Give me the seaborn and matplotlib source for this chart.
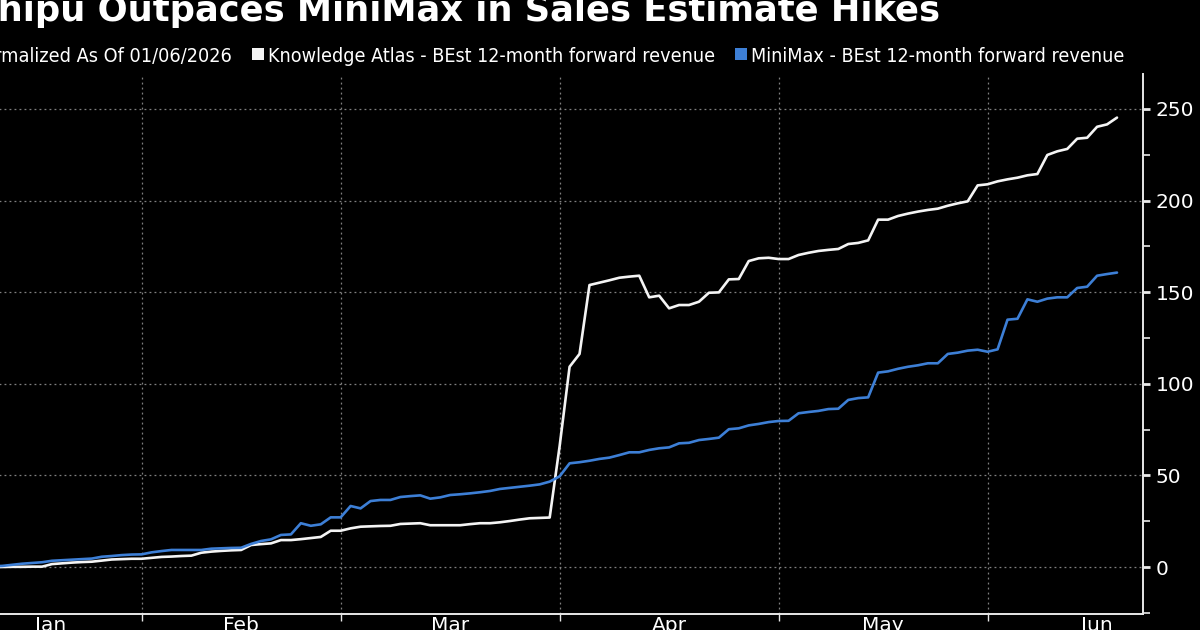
import numpy as np
import pandas as pd
import matplotlib
matplotlib.use("Agg")
import matplotlib.pyplot as plt
import seaborn as sns
from matplotlib import font_manager
from matplotlib.patches import Rectangle

# ---------------- data ----------------
dates = pd.bdate_range("2026-01-06", "2026-06-18")

knowledge_atlas = [
    0, 0, 0, 0, 0,
    0, 0.1, 0.1, 0.2, 0.2,
    1.6, 2.0, 2.4, 2.7, 2.9,
    3.5, 4.1, 4.3, 4.5, 4.5,
    5.0, 5.5, 5.7, 6.0, 6.2,
    7.8, 8.4, 8.8, 9.1, 9.3,
    12.0, 12.5, 12.9, 14.7, 14.7,
    15.2, 15.8, 16.4, 19.8, 19.8,
    21.1, 22.0, 22.2, 22.4, 22.5,
    23.5, 23.7, 23.9, 22.8, 22.8,
    22.8, 22.8, 23.4, 23.9, 23.9,
    24.4, 25.1, 25.9, 26.6, 26.8,
    27.0, 66.0, 109.3, 116.3, 153.9,
    155.2, 156.5, 157.9, 158.5, 159.0,
    147.2, 148.1, 141.2, 143.0, 143.0,
    144.8, 149.7, 149.9, 157.0, 157.2,
    167.0, 168.5, 168.8, 168.1, 168.1,
    170.3, 171.5, 172.5, 173.1, 173.6,
    176.3, 176.9, 178.3, 189.6, 189.6,
    191.6, 192.9, 194.0, 194.9, 195.6,
    197.2, 198.5, 199.6, 208.3, 208.9,
    210.5, 211.6, 212.5, 213.8, 214.5,
    224.9, 226.9, 228.2, 233.8, 234.3,
    240.3, 241.6, 245.3,
]

minimax = [
    0, 0.1, 0.2, 0.3, 0.4,
    0.6, 1.2, 1.8, 2.2, 2.6,
    3.4, 3.7, 4.0, 4.3, 4.6,
    5.6, 6.0, 6.5, 6.8, 6.9,
    8.0, 8.7, 9.3, 9.3, 9.3,
    9.3, 10.0, 10.2, 10.4, 10.5,
    12.6, 14.2, 15.1, 17.5, 17.8,
    23.9, 22.5, 23.3, 27.1, 27.1,
    33.3, 32.0, 36.0, 36.6, 36.6,
    38.2, 38.7, 39.1, 37.3, 38.0,
    39.3, 39.7, 40.2, 40.8, 41.5,
    42.6, 43.2, 43.8, 44.4, 45.1,
    46.6, 49.5, 56.6, 57.2, 58.0,
    59.0, 59.7, 61.1, 62.6, 62.6,
    63.9, 64.8, 65.3, 67.5, 67.8,
    69.3, 69.9, 70.6, 75.2, 75.7,
    77.3, 78.1, 79.1, 79.7, 79.8,
    83.9, 84.6, 85.2, 86.2, 86.4,
    91.2, 92.2, 92.6, 106.1, 106.8,
    108.2, 109.3, 110.1, 111.2, 111.2,
    116.3, 117.0, 118.1, 118.6, 117.5,
    118.8, 135.0, 135.5, 146.1, 144.8,
    146.5, 147.2, 147.2, 152.3, 153.0,
    159.0, 159.9, 160.7,
]

month_names = ["Jan", "Feb", "Mar", "Apr", "May", "Jun"]
month_starts = ["2026-01-01", "2026-02-01", "2026-03-01", "2026-04-01",
                "2026-05-01", "2026-06-01", "2026-07-01"]
y_major = [0, 50, 100, 150, 200, 250]
y_minor = [-25, 25, 75, 125, 175, 225]

title = "Zhipu Outpaces MiniMax in Sales Estimate Hikes"
subtitle = "Normalized As Of 01/06/2026"
label_ka = "Knowledge Atlas - BEst 12-month forward revenue"
label_mm = "MiniMax - BEst 12-month forward revenue"

WHITE = "#f4f4f4"
BLUE = "#3d7fd6"

# ---------------- build frame (weekday axis) ----------------
base = np.datetime64("2026-01-01")
day_idx = np.busday_count(base, dates.values.astype("datetime64[D]"))
df = pd.concat([
    pd.DataFrame({"idx": day_idx, "value": knowledge_atlas, "series": label_ka}),
    pd.DataFrame({"idx": day_idx, "value": minimax, "series": label_mm}),
], ignore_index=True)

month_idx = [int(np.busday_count(base, np.datetime64(m))) for m in month_starts]

# ---------------- style ----------------
sns.set_theme(style="dark", rc={
    "axes.facecolor": "black",
    "figure.facecolor": "black",
    "savefig.facecolor": "black",
    "text.color": "white",
    "xtick.color": "white",
    "ytick.color": "white",
})
plt.rcParams["font.family"] = ["DejaVu Sans"]

fonts = {(f.name, f.stretch) for f in font_manager.fontManager.ttflist}
if any(n == "DejaVu Sans" and s in ("condensed", "semi-condensed") for n, s in fonts):
    legend_font = dict(family="DejaVu Sans", stretch="condensed")
elif any(n == "Liberation Sans Narrow" for n, s in fonts):
    legend_font = dict(family="Liberation Sans Narrow")
else:
    legend_font = dict(family="DejaVu Sans")

W, H = 1200, 630
fig = plt.figure(figsize=(12, 6.3), dpi=100)
renderer = fig.canvas.get_renderer()

# axes: right spine at x=1143px, top at 74px, bottom at 614px
px_per_day = 9.953
x_left = 3.0
ax_left_px = -47.5
ax_w_px = 1143 - ax_left_px
ax = fig.add_axes([ax_left_px / W, (H - 614) / H, ax_w_px / W, 540 / H])
ax.set_facecolor("black")

sns.lineplot(data=df, x="idx", y="value", hue="series",
             hue_order=[label_ka, label_mm],
             palette={label_ka: WHITE, label_mm: BLUE},
             linewidth=1.9, legend=False, estimator=None, ax=ax)

# spines
for s in ("left", "top"):
    ax.spines[s].set_visible(False)
for s in ("right", "bottom"):
    ax.spines[s].set_visible(True)
    ax.spines[s].set_color("#e8e8e8")
    ax.spines[s].set_linewidth(1.4)

# y axis on right
ax.yaxis.tick_right()
ax.set_yticks(y_major)
ax.set_yticks(y_minor, minor=True)
ax.set_yticklabels([str(v) for v in y_major])
ax.tick_params(axis="y", which="major", direction="out", length=5, width=2,
               color="#e8e8e8", labelcolor="white", labelsize=14.5, pad=4,
               right=True, left=False)
ax.tick_params(axis="y", which="minor", direction="out", length=5, width=1.2,
               color="#e8e8e8", right=True, left=False)

# x axis: month boundaries as major ticks (grid), labels at month centres
ax.set_xticks(month_idx)
ax.set_xticklabels([""] * len(month_idx))
mids = []
for i in range(len(month_names)):
    start, end = month_idx[i], month_idx[i + 1]
    lo = max(start, x_left)
    mids.append((lo + end) / 2 + (0.4 if lo > start else 0.0))
ax.set_xticks(mids, minor=True)
ax.set_xticklabels(month_names, minor=True)
ax.tick_params(axis="x", which="major", direction="out", length=5, width=1,
               color="#e8e8e8", bottom=True)
ax.tick_params(axis="x", which="minor", length=0, labelsize=14.5,
               labelcolor="white", pad=1.5, bottom=True)

# limits set after ticks so tick placement cannot widen the view
ax.set_xlim(x_left, x_left + ax_w_px / px_per_day)
ax.set_ylim(-25.65, 269.1)

ax.grid(True, which="major", axis="both", color="#808080",
        linestyle=(0, (1.5, 2.5)), linewidth=0.9)
ax.grid(False, which="minor")
ax.set_axisbelow(True)
ax.set_xlabel("")
ax.set_ylabel("")


def fit_size(text, target_px, base=20, **kw):
    t = fig.text(0, 0, text, fontsize=base, **kw)
    w = t.get_window_extent(renderer).width
    t.remove()
    return base * target_px / w


# title (cut on left and top, as in reference)
tsize = fit_size(title[1:], 940, family="DejaVu Sans", fontweight="bold")
fig.text(940 / W, 1 - 21 / H, title, ha="right", va="baseline",
         color="white", fontsize=tsize, fontweight="bold", family="DejaVu Sans")

# legend row
lsize = fit_size(label_ka, 447, **legend_font)
ssize = fit_size(subtitle[3:], 231, **legend_font)
base_y = 1 - 61.5 / H
fig.text(231.5 / W, base_y, subtitle, ha="right", va="baseline",
         color="white", fontsize=ssize, **legend_font)
fig.add_artist(Rectangle((252 / W, 1 - 60 / H), 12 / W, 12 / H,
                         transform=fig.transFigure, facecolor=WHITE,
                         edgecolor="none"))
fig.text(268 / W, base_y, label_ka, ha="left", va="baseline",
         color="white", fontsize=lsize, **legend_font)
fig.add_artist(Rectangle((735 / W, 1 - 60 / H), 12 / W, 12 / H,
                         transform=fig.transFigure, facecolor=BLUE,
                         edgecolor="none"))
fig.text(751 / W, base_y, label_mm, ha="left", va="baseline",
         color="white", fontsize=lsize, **legend_font)

fig.savefig("out.png", dpi=100, facecolor="black")
